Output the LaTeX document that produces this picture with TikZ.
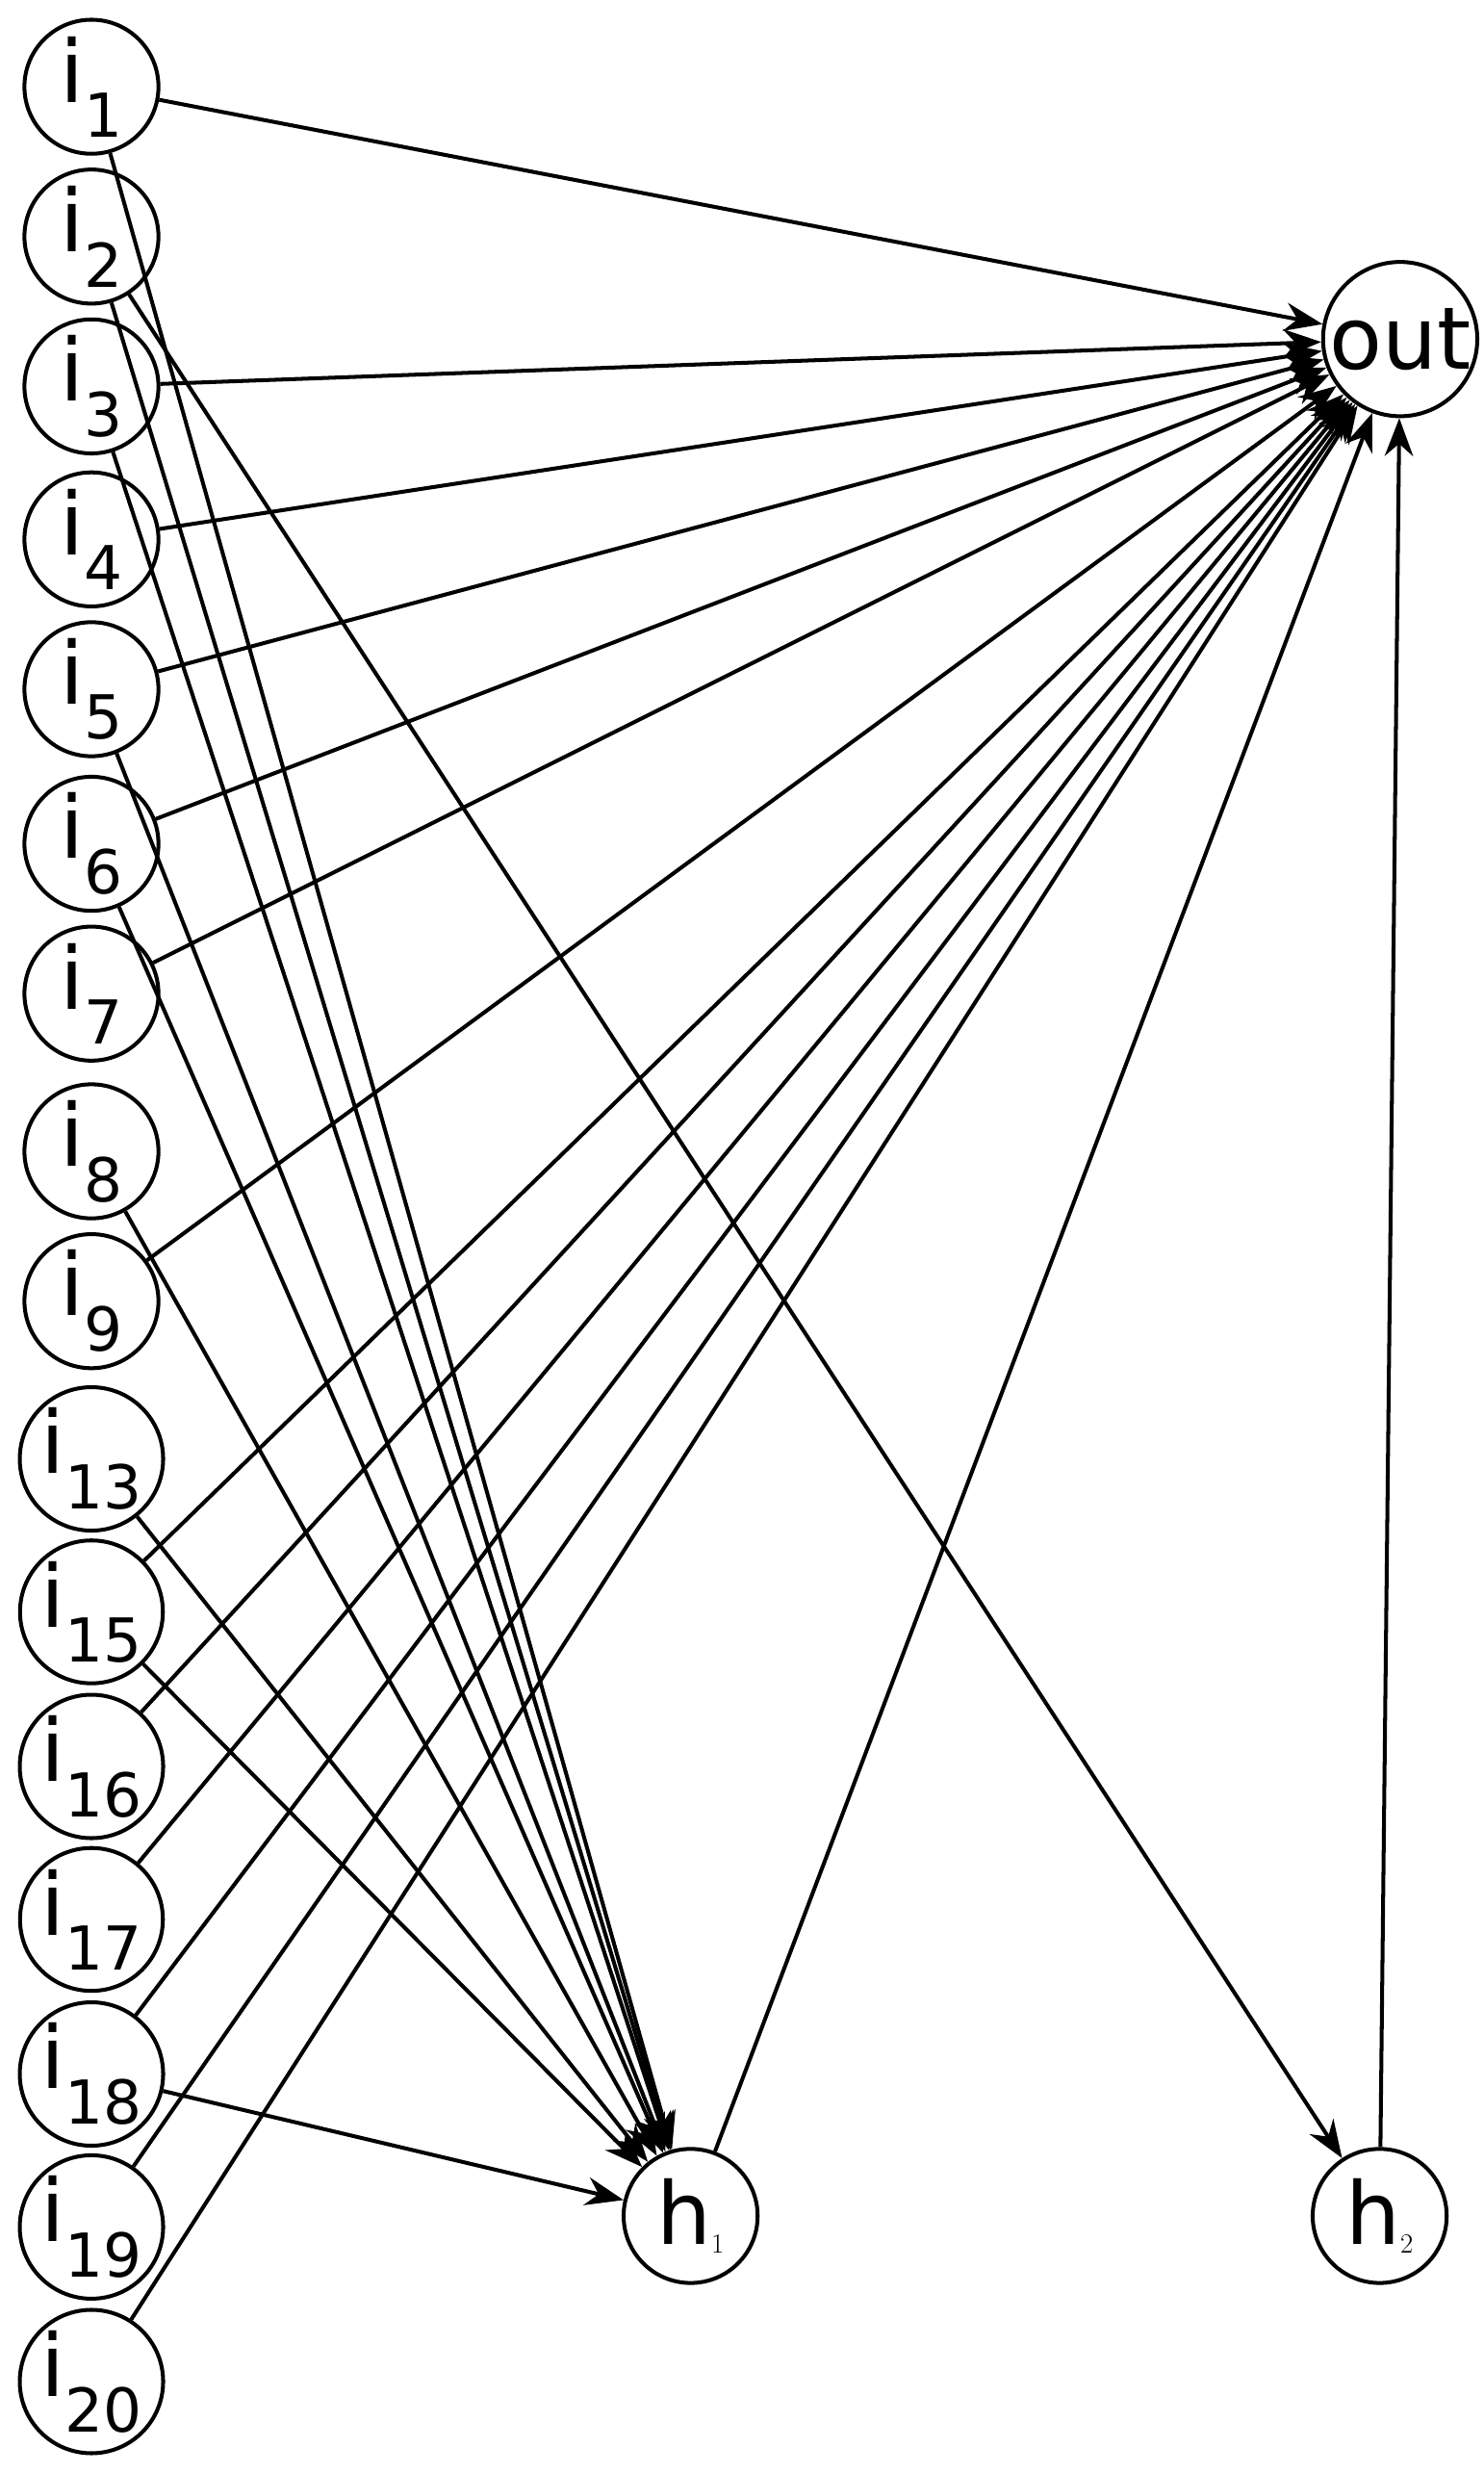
\documentclass[tikz,border=0pt]{standalone}
\usepackage{fontspec}
\setmainfont{DejaVu Sans}
\usetikzlibrary{arrows.meta}
\begin{document}
\begin{tikzpicture}[x=0.05cm,y=-0.05cm,
  nd/.style={circle,draw,line width=3.5pt,minimum size=4.25cm,inner sep=0pt,font=\fontsize{78}{80}\selectfont},
  ed/.style={line width=3.5pt,-{Stealth[length=1.2cm,width=0.9cm]}}]
\useasboundingbox (0,0) rectangle (941,1568);
\foreach \n/\y in {1/55,2/150,3/245,4/342,5/437,6/535,7/630,8/730,9/825,13/925,15/1022,16/1120,17/1217,18/1315,19/1412,20/1510}
  \node[nd] (i\n) at (58,\y) {i$_{\mathrm{\n}}$};
\node[nd] (h1) at (438,1405) {h$_1$};
\node[nd] (h2) at (875,1405) {h$_2$};
\node[nd] (out) at (888,215) {out};
\foreach \n in {1,3,4,5,6,7,9,15,16,17,18,19,20}
  \draw[ed] (i\n) -- (out);
\draw[ed] (h1) -- (out);
\draw[ed] (h2) -- (out);
\foreach \n in {1,2,3,5,6,8,13,15,18}
  \draw[ed] (i\n) -- (h1);
\draw[ed] (i2) -- (h2);
\end{tikzpicture}
\end{document}
